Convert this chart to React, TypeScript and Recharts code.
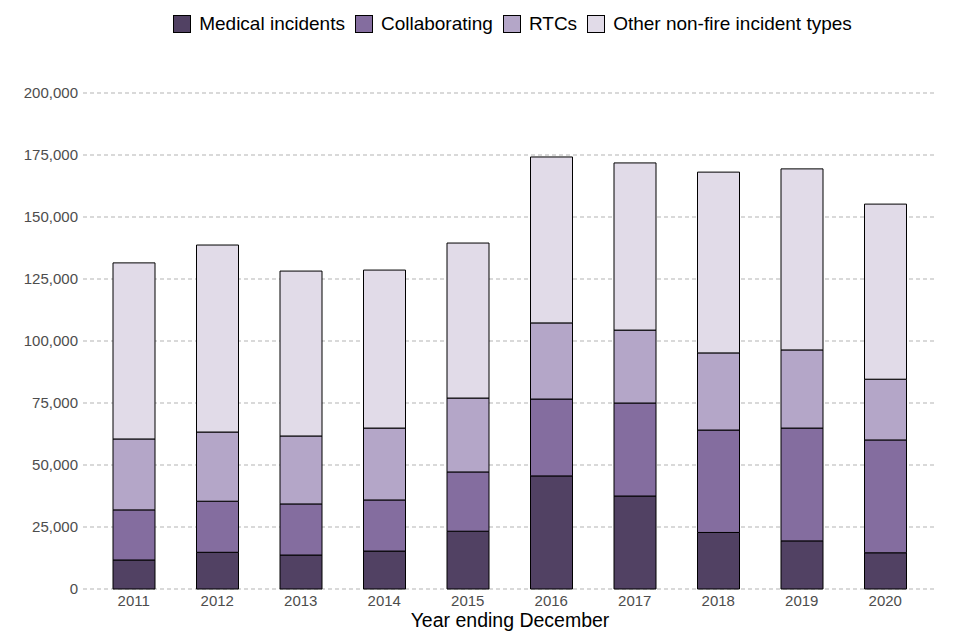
import { BarChart, Bar, XAxis, YAxis, CartesianGrid, Legend } from 'recharts';

// Values (incidents per year ending December)
const years = ['2011', '2012', '2013', '2014', '2015', '2016', '2017', '2018', '2019', '2020'];
const medical = [11700, 14800, 13700, 15300, 23300, 45600, 37500, 22800, 19400, 14600];
const collaborating = [20200, 20600, 20600, 20600, 23900, 31000, 37500, 41300, 45500, 45500];
const rtcs = [28600, 27900, 27400, 29000, 29800, 30700, 29400, 31100, 31500, 24500];
const otherNonFire = [71000, 75400, 66500, 63700, 62500, 66900, 67400, 72900, 73000, 70600];
const yTicks = [0, 25000, 50000, 75000, 100000, 125000, 150000, 175000, 200000];

const series = [
  { key: 'medical', name: 'Medical incidents', color: '#514163' },
  { key: 'collaborating', name: 'Collaborating', color: '#846d9f' },
  { key: 'rtcs', name: 'RTCs', color: '#b4a6c8' },
  { key: 'other', name: 'Other non-fire incident types', color: '#e1dbe8' },
];

const data = years.map((year, i) => ({
  year,
  medical: medical[i],
  collaborating: collaborating[i],
  rtcs: rtcs[i],
  other: otherNonFire[i],
}));

const FONT = '"Liberation Sans", Arial, sans-serif';

function LegendRow() {
  return (
    <div
      style={{
        display: 'flex',
        justifyContent: 'center',
        alignItems: 'center',
        paddingLeft: 75,
        height: 22,
        fontFamily: FONT,
        fontSize: 19,
        color: '#000',
      }}
    >
      {series.map((s) => (
        <div key={s.key} style={{ display: 'flex', alignItems: 'center', marginRight: 10 }}>
          <span
            style={{
              display: 'inline-block',
              width: 16,
              height: 16,
              background: s.color,
              border: '1px solid #000',
              marginRight: 8,
            }}
          />
          <span>{s.name}</span>
        </div>
      ))}
    </div>
  );
}

export default function App() {
  return (
    <div style={{ width: 960, height: 640, background: '#fff' }}>
      <style>{'body{margin:0;}'}</style>
      <BarChart
        width={960}
        height={640}
        data={data}
        margin={{ top: 71, right: 23, left: 8, bottom: 6 }}
      >
        <CartesianGrid
          horizontal
          vertical={false}
          stroke="#b3b3b3"
          strokeDasharray="4 3"
        />
        <XAxis
          dataKey="year"
          padding={{ left: 9, right: 10 }}
          axisLine={false}
          tickLine={false}
          tick={{ fill: '#4d4d4d', fontSize: 15, fontFamily: FONT }}
          tickMargin={0}
          height={45}
          label={{
            value: 'Year ending December',
            position: 'insideBottom',
            offset: 7,
            fill: '#000',
            fontSize: 19.5,
            fontFamily: FONT,
          }}
        />
        <YAxis
          width={75}
          domain={[0, 200000]}
          ticks={yTicks}
          interval={0}
          axisLine={false}
          tickLine={false}
          tickSize={3}
          tickMargin={2}
          tick={{ fill: '#4d4d4d', fontSize: 15, fontFamily: FONT }}
          tickFormatter={(v: number) => v.toLocaleString('en-GB')}
        />
        <Legend
          verticalAlign="top"
          content={() => <LegendRow />}
          wrapperStyle={{ top: 13, left: 0, width: 960 }}
        />
        {series.map((s) => (
          <Bar
            key={s.key}
            dataKey={s.key}
            name={s.name}
            stackId="a"
            fill={s.color}
            stroke="#000"
            strokeWidth={1}
            barSize={42}
            isAnimationActive={false}
          />
        ))}
      </BarChart>
    </div>
  );
}
